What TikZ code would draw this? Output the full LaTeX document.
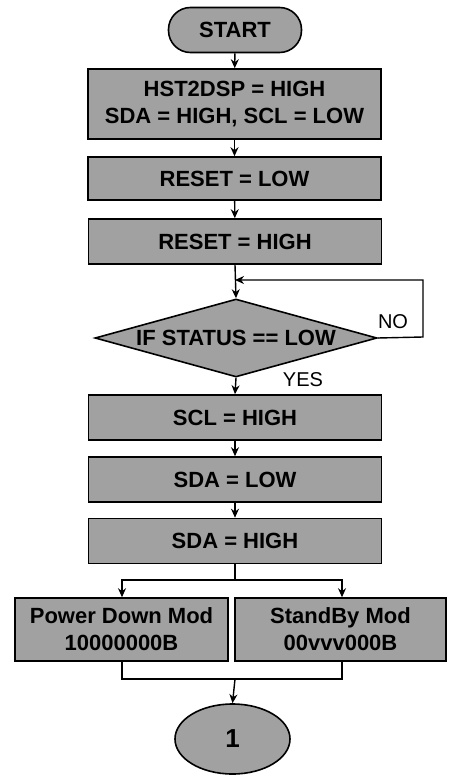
\documentclass[tikz,border=0pt]{standalone}
\usepackage{fontspec}
\setmainfont{Liberation Sans}
\usetikzlibrary{shapes.geometric,arrows.meta}
\begin{document}
\begin{tikzpicture}[x=1pt,y=-1pt,
  every node/.style={font=\fontsize{22}{27}\selectfont\bfseries},
  proc/.style={draw=black,line width=1.6pt,fill=black!37,rectangle,inner sep=0pt,
    minimum width=293pt,minimum height=45pt,align=center},
  term/.style={draw=black,line width=1.6pt,fill=black!37,rectangle,rounded corners=22pt,
    inner sep=0pt,minimum width=133pt,minimum height=45pt},
  dec/.style={draw=black,line width=1.6pt,fill=black!37,diamond,aspect=3.6,inner sep=0pt,
    minimum width=282pt,minimum height=78pt},
  conn/.style={draw=black,line width=1.6pt,fill=black!37,ellipse,inner sep=0pt,
    minimum width=115pt,minimum height=70pt,font=\fontsize{26}{30}\selectfont\bfseries},
  lbl/.style={font=\fontsize{20}{24}\selectfont},
  line/.style={draw=black,line width=1.4pt},
  arr/.style={line,-{Stealth[length=9pt,width=8pt]}}]
\useasboundingbox (0,0) rectangle (449,776);
\node[term] (start) at (235,30) {START};
\node[proc,minimum height=70pt] (b1) at (234.5,104) {HST2DSP = HIGH\\SDA = HIGH, SCL = LOW};
\node[proc,minimum height=43pt] (b2) at (234.5,178.5) {RESET = LOW};
\node[proc] (b3) at (235,241.5) {RESET = HIGH};
\node[dec] (dia) at (236,338) {IF STATUS == LOW};
\node[proc] (b4) at (235,417.5) {SCL = HIGH};
\node[proc] (b5) at (235,479.5) {SDA = LOW};
\node[proc] (b6) at (235,541) {SDA = HIGH};
\node[proc,minimum width=213pt,minimum height=63pt] (pd) at (121.5,629.5) {Power Down Mod\\10000000B};
\node[proc,minimum width=211pt,minimum height=63pt] (sb) at (340.5,629.5) {StandBy Mod\\00vvv000B};
\node[conn] (one) at (232.5,739) {1};
\node[lbl] (no) at (393,322) {NO};
\node[lbl] (yes) at (303,380) {YES};
\coordinate (j) at (235,280);
\coordinate (r) at (423,337);
\coordinate (split) at (235,580);
\coordinate (m) at (235,679);
\draw[arr] (start) -- (b1);
\draw[arr] (b1) -- (b2);
\draw[arr] (b2) -- (b3);
\draw[arr] (b3.south) -- (dia.north);
\draw[arr] (dia.east) -- (r) |- (j);
\draw[arr] (dia.south) -- (b4.north);
\draw[arr] (b4) -- (b5);
\draw[arr] (b5) -- (b6);
\draw[line] (b6.south) -- (split);
\draw[arr] (split) -| ([xshift=0.5pt]pd.north);
\draw[arr] (split) -| ([xshift=1.5pt]sb.north);
\draw[line] ([xshift=0.5pt]pd.south) |- (m) -| ([xshift=1.5pt]sb.south);
\draw[arr] (m) -- (one.north);
\end{tikzpicture}
\end{document}
